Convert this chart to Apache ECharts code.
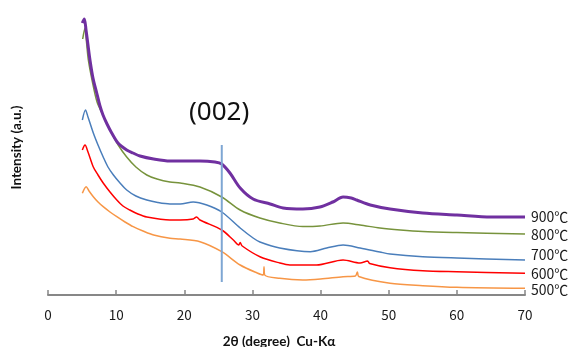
<!DOCTYPE html>
<html>
<head>
<meta charset="utf-8">
<script src="https://cdn.jsdelivr.net/npm/echarts@6/dist/echarts.min.js"></script>
<style>html,body{margin:0;padding:0;background:#fff;}#chart{width:568px;height:347px;}</style>
</head>
<body>
<div id="chart"></div>
<script>
// 2θ (degree) vs intensity (arbitrary units, offset for display)
const xTicks = [0, 10, 20, 30, 40, 50, 60, 70];
const seriesNames = ['900℃', '800℃', '700℃', '600℃', '500℃'];
const seriesColors = ['#7030A0', '#77933C', '#4A7EBB', '#FF0000', '#F79646'];

const s900 = [[5.03,272],[5.33,276],[5.58,265],[5.87,250],[6.16,235],[6.6,217],[7.15,202],[7.63,189],[8.07,180],[8.66,171],[9.35,162],[10.27,152],[11.55,145],[12.47,142],[13.5,139],[15.5,136],[17.9,134],[20,134],[22.3,134],[24.5,133],[25.5,131],[26.7,122],[28.2,107],[30.1,96],[32.6,91],[34.5,87],[37.4,86],[39.9,88],[41.8,93],[43.3,98],[44.5,97],[45.3,95],[47.3,90],[50.2,86],[55,82],[60,80],[65,78],[70,78]];
const s800 = [[5.09,256],[5.43,267],[5.65,253],[5.92,235],[6.46,215],[7.2,193],[8.07,180],[9.1,165],[10.3,150],[11.55,138],[12.9,128],[14.5,120],[16,116],[17.9,113],[19.4,112],[22.3,108],[25.5,98],[28.2,85],[31.1,77],[34,72],[37.4,68.5],[39.9,69],[43.3,72],[45.8,70],[48.7,67],[51.7,65],[55,63.5],[60,62.5],[70,61]];
const s700 = [[5.04,175],[5.5,185],[5.87,178],[6.65,162],[7.34,150],[8.1,138],[8.8,128],[9.6,120],[10.57,112],[11.55,105],[12.9,99],[14.5,95],[16.1,92.5],[17.9,91],[19.4,91],[21.3,93],[23.3,90],[25.5,83],[28.2,67],[30.1,57],[31.1,53],[34,47],[38.5,43.3],[40.9,47],[43.3,50],[45.8,47],[48.7,43],[50.2,41],[55,38.3],[60,37],[70,35]];
const s600 = [[5.04,145],[5.43,150],[5.87,143],[6.65,128],[7.34,120],[8.1,112],[9.1,103],[10.1,95],[11,89],[12,85],[13.2,81],[14.5,78],[17.9,75],[19.4,75],[21.3,76],[21.8,78],[22.3,75],[25.5,65],[27.2,55],[28.0,50],[28.2,52.5],[28.5,49],[31.1,38.3],[34,32],[35.5,30],[39.4,30],[43.3,35],[45.8,32],[46.9,34],[47.2,31.5],[50.2,27.3],[55,24.3],[60,23.3],[70,21.7]];
const s500 = [[5.04,101.7],[5.6,108.3],[6.02,104],[6.65,98.3],[7.34,93],[8.1,88.3],[9.1,83],[10.1,78.3],[11.3,73],[12.5,68.3],[13.94,64],[15.5,60],[17.9,56.7],[19.4,56],[22.3,53.3],[25.5,43.3],[28.2,30],[30.7,22],[31.6,20],[31.7,28.3],[31.8,20],[34,16.7],[37.4,15],[40,16],[43.3,18.3],[45.1,19],[45.4,23],[45.6,18.5],[50.2,11.7],[55,9.3],[60,7.7],[70,6.7]];
const allData = [s900, s800, s700, s600, s500];

const peakLabel = '(002)';
const peakX = 25.5;
const peakLine = [[peakX, 13], [peakX, 150]];

const chart = echarts.init(document.getElementById('chart'));
const labelOffsets = [[0,0],[0,1],[0,-5],[0,0],[0,1]];
const series = allData.map((d, i) => ({
  name: seriesNames[i],
  type: 'line',
  data: d,
  symbol: 'none',
  smooth: 0.3,
  lineStyle: { color: seriesColors[i], width: i === 0 ? 3 : 1.5, join: 'round' },
  itemStyle: { color: seriesColors[i] },
  endLabel: {
    show: true,
    formatter: seriesNames[i],
    color: '#1a1a1a',
    fontSize: 14,
    fontFamily: 'Noto Sans CJK JP',
    distance: 6,
    offset: labelOffsets[i]
  },
  z: 5 - i
}));
series.push({
  type: 'line',
  data: peakLine,
  symbol: 'none',
  lineStyle: { color: '#7EA6D3', width: 2 },
  z: 10
});

chart.setOption({
  animation: false,
  grid: { left: 48, right: 43, top: 0, bottom: 52, containLabel: false, outerBoundsMode: 'none' },
  xAxis: {
    type: 'value', min: 0, max: 70, interval: 10,
    name: '2θ (degree)  Cu-Kα',
    nameLocation: 'middle',
    nameGap: 40,
    nameTextStyle: { fontFamily: 'Lato', fontWeight: 'bold', fontSize: 13.5, color: '#111', padding: [0, 15, 0, 0] },
    axisLine: { show: true, lineStyle: { color: '#878787', width: 2 } },
    axisTick: { show: true, inside: true, length: 5, lineStyle: { color: '#878787', width: 1.5 } },
    axisLabel: { color: '#1a1a1a', fontSize: 13.5, fontFamily: 'Noto Sans CJK JP', margin: 13 },
    splitLine: { show: false }
  },
  yAxis: {
    type: 'value', min: 0, max: 295,
    name: 'Intensity (a.u.)',
    nameLocation: 'middle',
    nameGap: 24,
    nameTextStyle: { fontFamily: 'Lato', fontWeight: 'bold', fontSize: 13.5, color: '#111' },
    axisLine: { show: false }, axisTick: { show: false }, axisLabel: { show: false }, splitLine: { show: false }
  },
  graphic: [{
    type: 'text',
    left: 189, top: 100,
    style: { text: peakLabel, fontSize: 26, fontFamily: 'Noto Sans', fill: '#111' }
  }],
  series: series
});
</script>
</body>
</html>
